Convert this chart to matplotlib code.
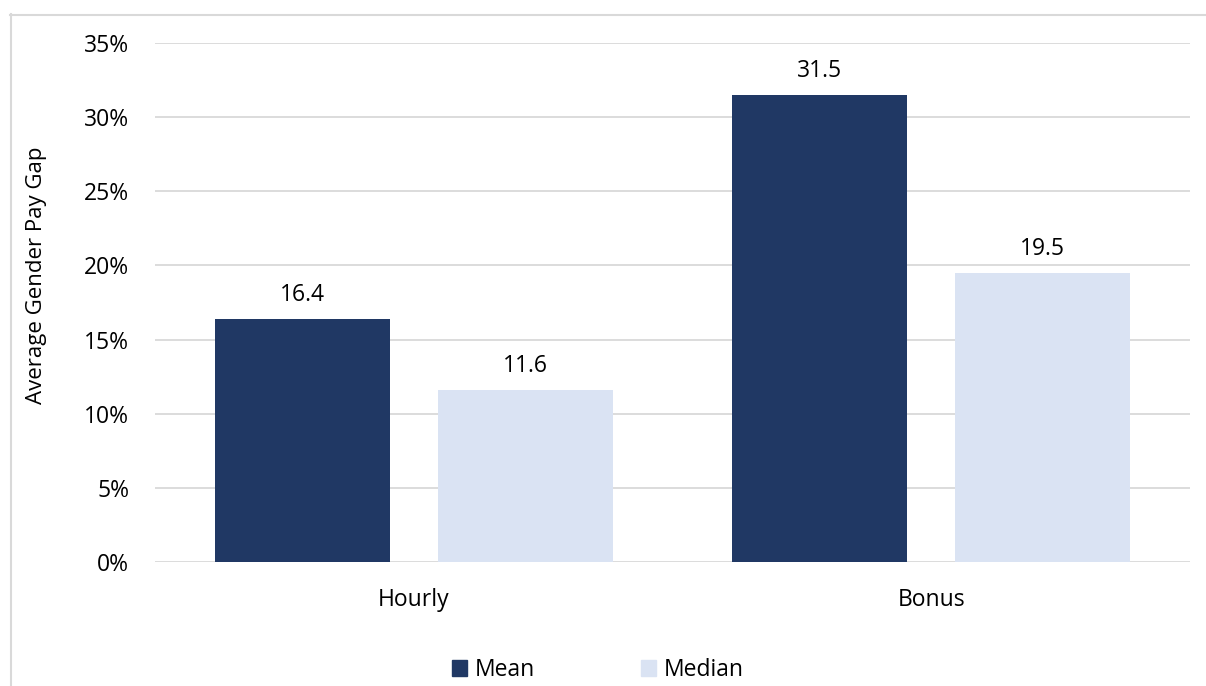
import matplotlib
matplotlib.use("Agg")
import matplotlib.pyplot as plt
import numpy as np
from matplotlib.ticker import FuncFormatter
from matplotlib.lines import Line2D
from matplotlib.patches import Patch

categories = ["Hourly", "Bonus"]
mean_vals = [16.4, 31.5]
median_vals = [11.6, 19.5]
series_names = ["Mean", "Median"]
yticks = [0, 5, 10, 15, 20, 25, 30, 35]

c_mean = "#203864"
c_median = "#DAE3F3"
grid_c = "#D9D9D9"

plt.rcParams['font.family'] = ['Open Sans', 'DejaVu Sans']
fs = 16.5

W, H = 1206, 686
L, R, T, B = 155, 1190, 43, 562
fig = plt.figure(figsize=(W / 100, H / 100), dpi=100)
ax = fig.add_axes([L / W, 1 - B / H, (R - L) / W, (B - T) / H])

x = np.arange(len(categories))
bw = 0.338
gap = 0.0927
off = (bw + gap) / 2
b1 = ax.bar(x - off, mean_vals, bw, color=c_mean, zorder=3, label=series_names[0])
b2 = ax.bar(x + off, median_vals, bw, color=c_median, zorder=3, label=series_names[1])

for bars in (b1, b2):
    for r in bars:
        ax.annotate(f"{r.get_height():.1f}", (r.get_x() + r.get_width() / 2, r.get_height()),
                    xytext=(0, 13), textcoords="offset points", ha="center", va="baseline",
                    fontsize=fs, color="#000000")

ax.set_xlim(-0.5, 1.5)
ax.set_ylim(0, 35)
ax.set_yticks(yticks)
ax.yaxis.set_major_formatter(FuncFormatter(lambda v, p: f"{v:.0f}%"))
ax.set_xticks(x)
ax.set_xticklabels(categories)
ax.tick_params(axis="both", length=0, labelsize=fs, colors="#000000")
ax.tick_params(axis="y", pad=18.5)
ax.tick_params(axis="x", pad=19)
ax.grid(axis="y", color=grid_c, linewidth=1.3, zorder=0)
for s in ax.spines.values():
    s.set_visible(False)
ax.set_ylabel("Average Gender Pay Gap", fontsize=16)
ax.yaxis.set_label_coords((47 - L) / (R - L), (B - 275) / (B - T))

handles = [Patch(color=c_mean), Patch(color=c_median)]
fig.legend(handles, series_names, loc="center", bbox_to_anchor=(598 / W, 1 - 670 / H),
           ncol=2, frameon=False, fontsize=fs, handlelength=0.65, handleheight=0.65,
           columnspacing=4.6, handletextpad=0.35, borderpad=0, borderaxespad=0)

fig.add_artist(Line2D([10.5 / W, 10.5 / W], [0, 1 - 14 / H], color=grid_c, lw=1.5))
fig.add_artist(Line2D([10 / W, 1], [1 - 14.5 / H, 1 - 14.5 / H], color=grid_c, lw=1.5))

fig.savefig("out.png", dpi=100)
